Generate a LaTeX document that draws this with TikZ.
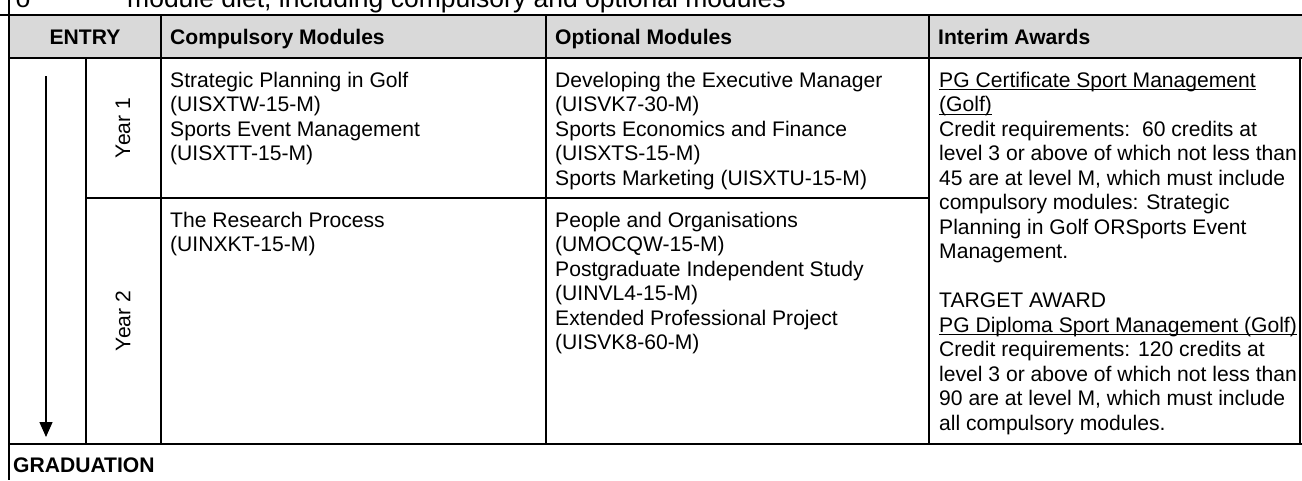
\documentclass[tikz,border=0pt]{standalone}
\usepackage{fontspec}
\setmainfont{Liberation Sans}
\newfontfamily\monofnt{Liberation Mono}
\usetikzlibrary{arrows.meta}
\definecolor{headgray}{HTML}{D9D9D9}
\newcommand\tfs{\fontsize{21.1}{24.5}\selectfont}
\newcommand\topfs{\fontsize{26.5}{30}\selectfont}
\newcommand\fstrut{\rule{0pt}{18pt}}
\newcommand\ulx[1]{\leavevmode\setbox0\hbox{#1}\rlap{\rule[-3.2pt]{\wd0}{1.3pt}}\box0}
\begin{document}
\begin{tikzpicture}[x=1pt,y=-1pt,
  rule/.style={line width=2.3pt},
  cell/.style={anchor=north west,inner sep=0pt,align=left,font=\tfs},
  headtxt/.style={anchor=base west,inner sep=0pt,font=\tfs\bfseries},
  yearlbl/.style={rotate=90,inner sep=0pt,font=\tfs},
  flow/.style={line width=1.3pt,-{Triangle[length=15pt,width=13pt]}}]
\clip (0,0) rectangle (1302,480);
\fill[white] (0,0) rectangle (1302,480);
\fill[headgray] (9,15) rectangle (1302,58);

% clipped caption line above the table
\node[anchor=base west,inner sep=0pt,font=\topfs\monofnt] (bul) at (15,7) {o};
\node[anchor=base west,inner sep=0pt,font=\topfs] (cap) at (127,7) {module diet, including compulsory and optional modules};

% header
\node[anchor=base,inner sep=0pt,font=\tfs\bfseries] (hentry) at (85,44.5) {ENTRY};
\node[headtxt] (hcomp) at (170,44.5) {Compulsory Modules};
\node[headtxt] (hopt) at (555,44.5) {Optional Modules};
\node[headtxt] (hint) at (938,44.5) {Interim Awards};

% year labels
\node[yearlbl] (y1) at (123,128) {Year 1};
\node[yearlbl] (y2) at (123,321) {Year 2};

% row 1
\node[cell] (c1) at (170,69) {\fstrut Strategic Planning in Golf\\(UISXTW-15-M)\\Sports Event Management\\(UISXTT-15-M)};
\node[cell] (o1) at (555,69) {\fstrut Developing the Executive Manager\\(UISVK7-30-M)\\Sports Economics and Finance\\(UISXTS-15-M)\\Sports Marketing (UISXTU-15-M)};

% row 2
\node[cell] (c2) at (170,209) {\fstrut The Research Process\\(UINXKT-15-M)};
\node[cell] (o2) at (555,209) {\fstrut People and Organisations\\(UMOCQW-15-M)\\Postgraduate Independent Study\\(UINVL4-15-M)\\Extended Professional Project\\(UISVK8-60-M)};

% interim awards
\node[cell] (aw) at (939,69) {\fstrut\ulx{PG Certificate Sport Management}\\\ulx{(Golf)}\\Credit requirements:\ \ 60 credits at\\level 3 or above of which not less than\\45 are at level M, which must include\\compulsory modules: Strategic\\Planning in Golf ORSports Event\\Management.\\\mbox{}\\TARGET AWARD\\\ulx{PG Diploma Sport Management (Golf)}\\Credit requirements: 120 credits at\\level 3 or above of which not less than\\90 are at level M, which must include\\all compulsory modules.};

% graduation
\node[anchor=base west,inner sep=0pt,font=\tfs\bfseries] (grad) at (13,472.5) {GRADUATION};

% arrow
\coordinate (atop) at (46,76);
\coordinate (atip) at (46,437);
\draw[flow] (atop) -- (atip);

% table rules
\draw[rule] (0,15) -- (1302,15);
\draw[rule] (9,58) -- (1302,58);
\draw[rule] (9,0) -- (9,480);
\draw[rule] (161,15) -- (161,444);
\draw[rule] (546,15) -- (546,444);
\draw[rule] (929,15) -- (929,444);
\draw[rule] (86,58) -- (86,444);
\draw[rule] (86,198) -- (929,198);
\draw[rule] (1300,58) -- (1300,444);
\draw[rule] (9,444) -- (1302,444);
\end{tikzpicture}
\end{document}
